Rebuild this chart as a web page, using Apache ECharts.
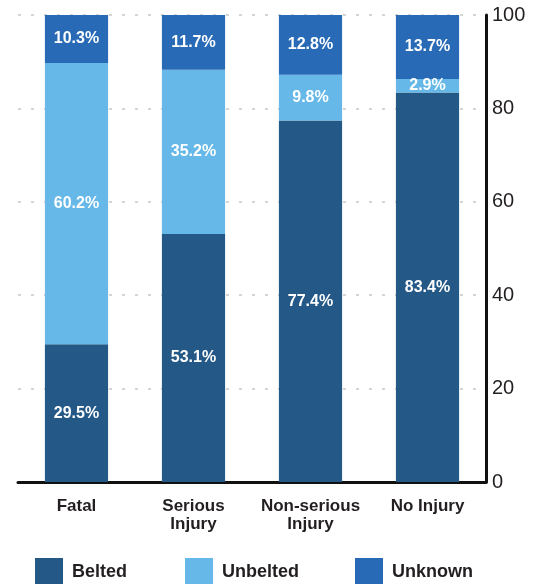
<!DOCTYPE html>
<html><head><meta charset="utf-8">
<script src="https://cdn.jsdelivr.net/npm/echarts@6/dist/echarts.min.js"></script>
<style>html,body{margin:0;padding:0;background:#fff}#c{width:538px;height:584px}</style>
</head><body><div id="c"></div>
<script>
const categories = ['Fatal', 'Serious\nInjury', 'Non-serious\nInjury', 'No Injury'];
const belted = [29.5, 53.1, 77.4, 83.4];
const unbelted = [60.2, 35.2, 9.8, 2.9];
const unknown = [10.3, 11.7, 12.8, 13.7];
const yTicks = [0, 20, 40, 60, 80, 100];

const FONT = '"Liberation Sans", Arial, sans-serif';
const colors = { Belted: '#245886', Unbelted: '#65b8e7', Unknown: '#286ab5' };
const lbl = {
  show: true, position: 'inside', color: '#fff', fontFamily: FONT,
  fontWeight: 'bold', fontSize: 16, formatter: p => p.value.toFixed(1) + '%'
};
function mk(name, data) {
  return { name, type: 'bar', stack: 'a', data, barWidth: '54%',
    itemStyle: { color: colors[name] }, label: lbl, emphasis: { disabled: true } };
}
const chart = echarts.init(document.getElementById('c'));
const legendBase = { top: 558, padding: 0, itemWidth: 28, itemHeight: 28, icon: 'rect',
  textStyle: { fontFamily: FONT, fontWeight: 'bold', fontSize: 18, color: '#231f20', padding: [0, 0, 0, 4] } };
chart.setOption({
  animation: false,
  grid: { left: 18, right: 52, top: 15, bottom: 102 },
  legend: [
    Object.assign({ left: 35, data: ['Belted'] }, legendBase),
    Object.assign({ left: 185, data: ['Unbelted'] }, legendBase),
    Object.assign({ left: 355, data: ['Unknown'] }, legendBase)
  ],
  xAxis: {
    type: 'category', data: categories,
    axisLine: { lineStyle: { color: '#111', width: 3 } },
    axisTick: { show: false },
    axisLabel: { color: '#231f20', fontFamily: FONT, fontWeight: 'bold', fontSize: 17, lineHeight: 18, margin: 15, interval: 0 }
  },
  yAxis: {
    type: 'value', position: 'right', min: yTicks[0], max: yTicks[yTicks.length - 1], interval: 20,
    axisLine: { show: true, lineStyle: { color: '#111', width: 3 } },
    axisTick: { show: false },
    axisLabel: { color: '#231f20', fontFamily: FONT, fontSize: 20, margin: 6 },
    splitLine: { show: true, lineStyle: { color: '#c8c8c8', width: 1.5, type: [3, 10] } }
  },
  series: [mk('Belted', belted), mk('Unbelted', unbelted), mk('Unknown', unknown)]
});
</script></body></html>
